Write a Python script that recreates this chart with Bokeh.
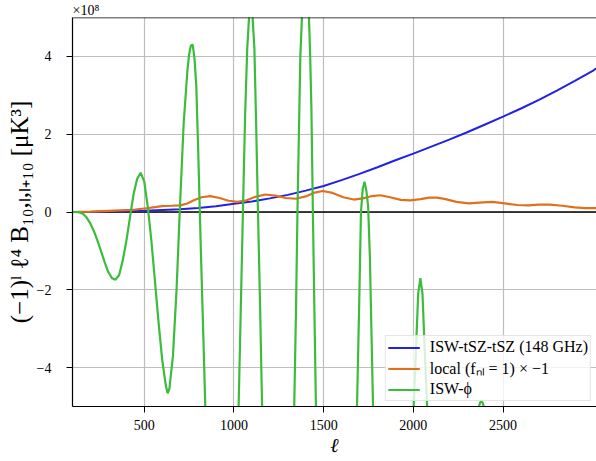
from bokeh.plotting import figure
from bokeh.models import (Range1d, FixedTicker, Span, Legend, LegendItem,
                          CustomJSTickFormatter)
from bokeh.embed import file_html
from bokeh.resources import INLINE

# ---------------- data (values in units of 1e8 muK^3) ----------------
ell_tsz = [100, 200, 300, 400, 500, 600, 700, 800, 900, 1000, 1100, 1200, 1300,
           1400, 1500, 1600, 1700, 1800, 1900, 2000, 2100, 2200, 2300, 2400,
           2500, 2600, 2700, 2800, 2900, 3000, 3030]
b_tsz = [0.0, 0.003, 0.01, 0.02, 0.03, 0.05, 0.07, 0.10, 0.15, 0.21, 0.27, 0.35,
         0.44, 0.55, 0.67, 0.82, 0.98, 1.15, 1.33, 1.50, 1.68, 1.86, 2.05, 2.25,
         2.45, 2.66, 2.88, 3.12, 3.37, 3.63, 3.72]

ell_loc = [100, 200, 300, 400, 450, 500, 550, 600, 650, 700, 740, 780, 820, 868,
           920, 970, 1020, 1070, 1120, 1175, 1230, 1290, 1345, 1400, 1450, 1495,
           1550, 1610, 1667, 1720, 1770, 1816, 1870, 1930, 1983, 2040, 2090,
           2132, 2180, 2240, 2309, 2370, 2439, 2510, 2580, 2640, 2700, 2760,
           2830, 2900, 2960, 3030]
b_loc = [0.0, 0.01, 0.03, 0.05, 0.06, 0.09, 0.12, 0.15, 0.16, 0.17, 0.22, 0.31,
         0.38, 0.41, 0.36, 0.29, 0.26, 0.30, 0.39, 0.45, 0.42, 0.36, 0.34, 0.40,
         0.50, 0.54, 0.49, 0.38, 0.32, 0.35, 0.41, 0.43, 0.38, 0.31, 0.30, 0.33,
         0.37, 0.37, 0.33, 0.26, 0.22, 0.24, 0.26, 0.22, 0.18, 0.17, 0.19, 0.19,
         0.16, 0.12, 0.10, 0.10]

ell_phi = [100, 120, 140, 160, 180, 200, 220, 240, 260, 280, 300, 320, 340, 360,
           380, 400, 420, 440, 460, 480, 500, 520, 540, 560, 580, 600, 620, 630,
           640, 660, 680, 700, 720, 740, 750, 760, 770, 780, 790, 800, 815, 830,
           845, 870, 900, 930, 960, 990, 1010, 1026, 1038, 1050, 1062, 1074, 1084,
           1094, 1104, 1114, 1124, 1134, 1146, 1156, 1165, 1175, 1200, 1250,
           1300, 1320, 1336, 1346, 1354, 1362, 1370, 1379, 1389, 1398, 1408,
           1418, 1425, 1432, 1440, 1448, 1457, 1480, 1520, 1570, 1620, 1660,
           1686, 1698, 1708, 1718, 1728, 1738, 1748, 1758, 1768, 1778, 1800,
           1850, 1890, 1940, 1980, 2002, 2015, 2027, 2039, 2051, 2063, 2077,
           2100, 2150, 2220, 2290, 2340, 2366, 2372, 2379, 2386, 2392, 2420,
           2500, 2560, 2620, 2680, 2700, 2760, 2850, 2900, 2960, 3030]
b_phi = [0.0, 0.0, -0.01, -0.05, -0.15, -0.3, -0.5, -0.75, -1.02, -1.3, -1.55,
         -1.70, -1.74, -1.62, -1.25, -0.75, -0.15, 0.45, 0.85, 1.01, 0.78, 0.12,
         -0.75, -1.8, -2.85, -3.8, -4.45, -4.66, -4.55, -3.7, -2.0, 0.25, 2.3,
         3.6, 4.05, 4.28, 4.3, 3.95, 3.25, 1.7, -0.9, -3.3,
         -5.8, -9.5, -13.5, -15.0, -14.0, -11.0, -8.2, -5.0, -2.5, 0.0, 2.45, 4.2,
         5.0, 5.1, 5.0, 4.2, 2.2, 0.0, -2.5, -4.8, -6.8, -9.0, -13.5, -19.0,
         -13.0, -8.5, -5.0, -2.5, 0.0, 2.0, 4.0, 5.0, 5.8, 6.0, 5.8,
         5.0, 4.0, 2.6, 0.0, -2.4, -5.0, -10.0, -17.0, -20.0, -16.0, -9.5,
         -5.0, -2.4, 0.0, 0.6, 0.78, 0.55, 0.15, -1.2, -3.4, -5.6, -10.0,
         -17.0, -19.0, -15.0, -8.5, -5.0, -3.5, -2.1, -1.7, -2.1, -3.5, -5.0,
         -8.5, -15.0, -19.0, -15.0, -8.5, -5.0, -4.9, -4.86, -4.9, -5.0, -7.5,
         -15.0, -18.0, -16.0, -9.0, -8.5, -11.0, -18.0, -19.0, -17.0, -13.0]

x_ticks = [500, 1000, 1500, 2000, 2500]
y_ticks = [-4, -2, 0, 2, 4]

labels = ["ISW-tSZ-tSZ (148 GHz)", "local (fₙₗ = 1) × −1", "ISW-ϕ"]
colors = ["#2222e6", "#e0701c", "#3cbc3c"]

FONT = "Liberation Serif"

# ---------------- figure ----------------
p = figure(width=596, height=461, output_backend="svg", toolbar_location=None,
           x_range=Range1d(100, 3021), y_range=Range1d(-5, 5),
           min_border_left=72, min_border_right=0, min_border_top=16,
           min_border_bottom=55)
p.outline_line_color = None
p.background_fill_color = "white"

p.title.text = "×10⁸"
p.title.align = "left"
p.title.text_font = FONT
p.title.text_font_size = "14px"
p.title.text_font_style = "normal"
p.title.text_color = "black"
p.title.standoff = 0
p.title.offset = 0

for ax in (p.xaxis[0], p.yaxis[0]):
    ax.major_tick_out = 6
    ax.major_tick_in = 0
    ax.minor_tick_out = 0
    ax.minor_tick_in = 0
    ax.axis_line_color = "black"
    ax.axis_line_width = 1.2
    ax.major_tick_line_color = "black"
    ax.major_tick_line_width = 1
    ax.major_label_text_font = FONT
    ax.major_label_text_font_size = "14px"
    ax.major_label_text_color = "black"
    ax.axis_label_text_font = FONT
    ax.axis_label_text_color = "black"

p.xaxis.ticker = FixedTicker(ticks=x_ticks)
p.yaxis.ticker = FixedTicker(ticks=y_ticks)
p.xaxis.major_label_standoff = 7
p.yaxis.major_label_standoff = 15
p.yaxis.formatter = CustomJSTickFormatter(
    code="return tick < 0 ? '\u2212' + Math.abs(tick) : String(tick);")

p.yaxis.axis_label = "(−1)ˡ ℓ⁴ B₁₀,ₗ,ₗ₊₁₀ [μK³]"
p.yaxis.axis_label_text_font_size = "25px"
p.yaxis.axis_label_text_font_style = "normal"
p.yaxis.axis_label_standoff = 1

p.xaxis.axis_label = "ℓ"
p.xaxis.axis_label_text_font_size = "20px"
p.xaxis.axis_label_text_font_style = "italic"
p.xaxis.axis_label_standoff = 1

p.xgrid.ticker = FixedTicker(ticks=x_ticks)
p.ygrid.ticker = FixedTicker(ticks=y_ticks)
for g in (p.xgrid[0], p.ygrid[0]):
    g.grid_line_color = "#bdbdbd"
    g.grid_line_width = 1.2

zero = Span(location=0, dimension="width", line_color="black",
            line_width=1.3, level="underlay")
p.add_layout(zero)
top = Span(location=5, dimension="width", line_color="black", line_width=1.5)
p.add_layout(top)

r1 = p.line(ell_tsz, b_tsz, line_color=colors[0], line_width=2)
r2 = p.line(ell_loc, b_loc, line_color=colors[1], line_width=2.2)
r3 = p.line(ell_phi, b_phi, line_color=colors[2], line_width=2.2)

legend = Legend(items=[LegendItem(label=labels[0], renderers=[r1]),
                       LegendItem(label=labels[1], renderers=[r2]),
                       LegendItem(label=labels[2], renderers=[r3])],
                location="bottom_right")
legend.margin = 5
legend.padding = 2
legend.spacing = 1
legend.label_height = 17
legend.glyph_height = 17
legend.glyph_width = 32
legend.label_standoff = 10
legend.label_text_font = FONT
legend.label_text_font_size = "16px"
legend.label_text_color = "black"
legend.border_line_color = "#cccccc"
legend.border_line_width = 1
legend.background_fill_alpha = 0.8
p.add_layout(legend)

open("out.html", "w").write(file_html(p, INLINE))
